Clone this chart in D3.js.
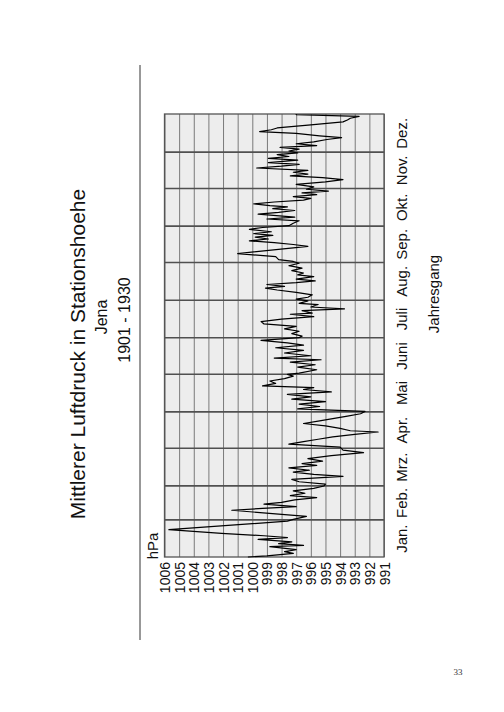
<!DOCTYPE html>
<html><head><meta charset="utf-8">
<script src="https://cdn.jsdelivr.net/npm/d3@7"></script>
<style>body{margin:0;background:#fff}svg{display:block}</style>
</head><body>
<svg id="c" width="504" height="712"></svg>
<script>
const months = ["Jan.","Feb.","Mrz.","Apr.","Mai","Juni","Juli","Aug.","Sep.","Okt.","Nov.","Dez."];
const monthStart = [0,31,59,90,120,151,181,212,243,273,304,334,365];
const pressureTicks = [1006,1005,1004,1003,1002,1001,1000,999,998,997,996,995,994,993,992,991];
const dayOfYear = [0,1,3,4.5,6,8.5,9.5,11,12.5,14.5,16,17.5,19.5,22.5,29.5,31,
 33.5,38.5,40,41.5,43.5,45,47,49,50.5,52.5,54.5,56.5,58.5,
 60,62,64,66.5,68,70,71.5,73.5,75.5,77,79,81,83.5,86,88,90.5,
 93,95,97,99,101,103,104,106,108,110,112,114,116,118,120,
 122,124,126,128,130,132,134,136,138,139.5,141,143,145,147,149,150.5,
 151.5,154.3,156.5,158.4,160.6,162.5,163.9,165.8,168.1,170.2,172.4,174.6,176.5,178.5,180.7,
 182,184,186,188,190,192,194,196,198,200,201,203,204.5,206,208,209,211,212.5,
 214,216,218,220,221.5,223,224.5,226,227.5,229,231,232.5,234,236,238,240,242,243.5,
 245,247.5,250,256,257.5,259,260.5,262,263.5,265,266.5,268,270,271.5,273,
 275,277,278.5,280,282.5,284,285.5,287,288.5,289.5,291,292.5,294,295.5,297,298.5,300,301.5,303,
 305,307,309,311,312.5,314,315.5,317,318.5,320.5,322,323.5,325,327,328.5,330,331.5,333,334.5,
 336,337.5,339,340.5,342,344,345.5,347,349,350.5,352,353.5,356,358.5,360,361.5,363,364.5,365];
const pressure = [1000.3,999.0,997.2,997.8,997.0,998.8,996.5,998.2,997.3,999.6,997.6,999.2,1002.1,1005.7,997.6,997.2,
 996.3,1001.4,999.3,997.0,999.2,998.0,997.1,995.6,997.4,996.4,997.2,995.8,995.1,
 995.0,996.8,997.3,993.8,995.8,997.2,996.1,997.5,995.6,996.6,995.2,996.2,994.6,992.4,993.8,994.0,
 997.5,996.5,995.5,994.5,993.0,991.4,993.3,994.0,995.0,996.5,995.5,994.5,993.5,992.6,992.3,
 996.9,995.4,996.8,995.0,997.3,996.0,997.6,994.6,996.5,995.8,999.3,998.4,998.8,997.8,997.2,997.6,
 996.8,995.6,996.9,995.7,997.4,995.3,998.5,996.0,997.8,996.5,998.4,996.5,997.6,999.4,996.8,
 996.6,997.3,996.8,997.8,997.0,999.2,999.4,998.0,995.8,997.4,995.9,996.6,993.7,996.0,995.5,996.8,996.2,997.0,
 996.2,995.9,997.0,998.3,999.1,997.8,999.0,997.0,995.7,997.0,995.8,996.9,996.5,997.3,996.6,997.5,996.8,997.2,
 998.2,998.4,1001.0,996.2,997.2,998.5,1000.2,998.9,999.8,998.6,999.9,998.7,1000.2,999.3,997.5,
 997.2,996.8,999.0,997.1,999.6,998.2,997.1,998.6,997.6,998.8,999.9,998.5,996.5,996.0,997.2,995.6,996.6,994.8,996.3,
 995.8,997.0,995.0,993.8,995.2,997.4,996.2,997.2,996.2,999.7,998.0,996.8,998.9,996.9,998.9,997.5,998.3,996.9,997.5,
 996.8,998.1,995.6,997.0,995.8,994.9,993.9,995.4,997.0,999.5,998.7,998.3,996.0,993.8,993.5,993.3,992.7,997.0,997.0];

const svg = d3.select("#c");
const font = "'Liberation Sans', Arial, Helvetica, sans-serif";
const x = d3.scaleLinear().domain([1006, 991]).range([164.5, 384]);
const y = d3.scaleLinear().domain([0, 365]).range([557, 114]);

// header
svg.append("line").attr("x1",140).attr("x2",140).attr("y1",65).attr("y2",640)
  .attr("stroke","#333").attr("stroke-width",1);
function vtext(tx, ty, str, size){
  svg.append("text").attr("transform",`translate(${tx},${ty}) rotate(-90)`)
    .attr("text-anchor","middle").attr("dominant-baseline","central")
    .attr("font-family",font).attr("font-size",size).attr("fill","#111").text(str);
}
vtext(77, 354, "Mittlerer Luftdruck in Stationshoehe", 21);
vtext(101, 317, "Jena", 16);
vtext(124, 320, "1901 - 1930", 16);
vtext(152, 546, "hPa", 15);
vtext(433, 294, "Jahresgang", 15);

// plot background
svg.append("rect").attr("x",x(1006)).attr("y",y(365)).attr("width",x(991)-x(1006)).attr("height",y(0)-y(365))
  .attr("fill","#ededed");

// value grid + labels
const gx = svg.append("g").attr("transform",`translate(0,${y(0)})`)
  .call(d3.axisBottom(x).tickValues(pressureTicks).tickSize(-(y(0)-y(365))).tickFormat(d3.format("d")));
gx.select(".domain").remove();
gx.selectAll(".tick line").attr("stroke","#7a7a7a").attr("stroke-width",1);
gx.selectAll(".tick text").attr("y",null).attr("dy",null)
  .attr("transform","translate(0,5) rotate(-90)").attr("text-anchor","end")
  .attr("dominant-baseline","central").attr("font-family",font).attr("font-size",14).attr("fill","#111");

// month grid
const gm = svg.append("g").attr("transform",`translate(${x(1006)},0)`)
  .call(d3.axisRight(y).tickValues(monthStart.slice(1,12)).tickSize(x(991)-x(1006)).tickFormat(""));
gm.select(".domain").remove();
gm.selectAll(".tick line").attr("stroke","#505050").attr("stroke-width",1.6);

// month labels
const mid = months.map((m,i)=>(monthStart[i]+monthStart[i+1])/2);
const gl = svg.append("g").attr("transform",`translate(${x(991)},0)`)
  .call(d3.axisRight(y).tickValues(mid).tickSize(0).tickFormat((d,i)=>months[i]));
gl.select(".domain").remove();
gl.selectAll(".tick text").attr("x",null).attr("dy",null)
  .attr("transform","translate(17,0) rotate(-90)").attr("text-anchor","middle")
  .attr("dominant-baseline","central").attr("font-family",font).attr("font-size",15).attr("fill","#111");

// border
svg.append("rect").attr("x",x(1006)).attr("y",y(365)).attr("width",x(991)-x(1006)).attr("height",y(0)-y(365))
  .attr("fill","none").attr("stroke","#555").attr("stroke-width",1.3);

// data line
const pts = dayOfYear.map((d,i)=>({d, v: pressure[i]}));
svg.append("path").datum(pts)
  .attr("d", d3.line().x(p=>x(p.v)).y(p=>y(p.d)))
  .attr("fill","none").attr("stroke","#000").attr("stroke-width",1.2).attr("stroke-linejoin","round");

// page number
svg.append("text").attr("x",458).attr("y",675).attr("text-anchor","middle")
  .attr("font-family","'Liberation Serif', 'DejaVu Serif', serif").attr("font-size",9).attr("fill","#333").text("33");
</script>
</body></html>
